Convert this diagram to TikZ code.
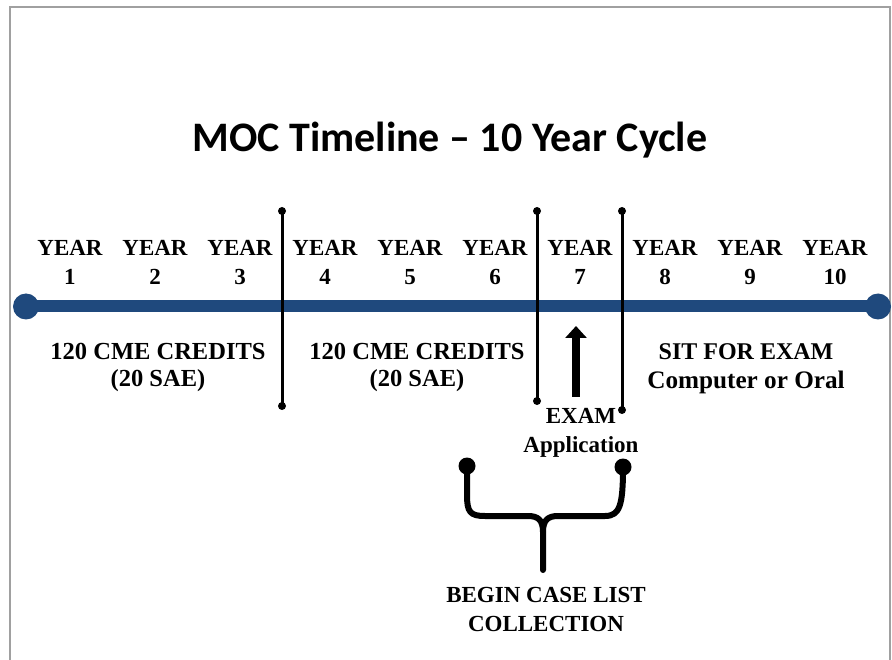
\documentclass[tikz,border=0pt]{standalone}
\usepackage{fontspec}
\setmainfont{Liberation Serif}
\newfontfamily\titlefont{Carlito}
\usetikzlibrary{arrows.meta}
\definecolor{tlblue}{RGB}{31,73,125}
\definecolor{framegray}{RGB}{160,160,160}
\begin{document}
\begin{tikzpicture}[x=1pt,y=-1pt,
  lbl/.style={font=\bfseries\fontsize{23}{29}\selectfont, align=center, inner sep=0pt, anchor=north},
  dot/.style={circle, fill=black, inner sep=0pt, minimum size=8pt},
  bigdot/.style={circle, fill=black, inner sep=0pt, minimum size=17pt},
  enddot/.style={circle, fill=tlblue, inner sep=0pt, minimum size=26pt},
  divider/.style={line width=3pt},
  bracepath/.style={line width=6pt, line join=round, line cap=round}]
\useasboundingbox (0,0) rectangle (892,660);
% frame
\draw[framegray, line width=1.6pt] (10,660) -- (10,7) -- (890,7) -- (890,660);
% title
\node[font=\titlefont\bfseries\fontsize{42}{50}\selectfont, anchor=base, inner sep=0pt] (title) at (450,152) {MOC Timeline – 10 Year Cycle};
% year labels
\foreach \i in {1,...,10}{
  \node[lbl] (y\i) at ({70+85*(\i-1)},240) {YEAR\\\i};
}
% timeline
\node[enddot] (L) at (26,306.5) {};
\node[enddot] (R) at (878,306.5) {};
\draw[tlblue, line width=12pt] (L.center) -- (R.center);
% dividers
\node[dot] (a1) at (282,211) {};
\node[dot] (a2) at (282,406) {};
\node[dot] (b1) at (537,211) {};
\node[dot] (b2) at (537,401) {};
\node[dot] (c1) at (622,211) {};
\node[dot] (c2) at (622,410) {};
\draw[divider] (a1.center) -- (a2.center);
\draw[divider] (b1.center) -- (b2.center);
\draw[divider] (c1.center) -- (c2.center);
% arrow
\coordinate (arrB) at (576,397);
\coordinate (arrT) at (576,326);
\draw[line width=8pt, -{Triangle[width=21pt,length=12pt]}] (arrB) -- (arrT);
% labels below
\node[lbl, font=\bfseries\fontsize{24.5}{27}\selectfont] (cme1) at (158,343) {120 CME CREDITS\\(20 SAE)};
\node[lbl, font=\bfseries\fontsize{24.5}{27}\selectfont] (cme2) at (417,343) {120 CME CREDITS\\(20 SAE)};
\node[lbl, font=\bfseries\fontsize{24}{29}\selectfont] (sit) at (746,343) {SIT FOR EXAM\\{\fontsize{25.2}{29}\selectfont Computer or Oral}};
\node[lbl] (exam) at (581,408) {EXAM\\Application};
% brace
\node[bigdot] (bl) at (467,466) {};
\node[bigdot] (br) at (623,467) {};
\coordinate (tip) at (543,570);
\draw[bracepath] (bl.center) -- (467,495) .. controls (467,512) and (470,516) .. (485,516) -- (528,516) .. controls (538,516) and (543,520) .. (543,532) -- (tip);
\draw[bracepath] (br.center) .. controls (623,505) and (620,516) .. (605,516) -- (558,516) .. controls (548,516) and (543,520) .. (543,532);
\node[lbl] (case) at (546,587) {BEGIN CASE LIST\\COLLECTION};
\end{tikzpicture}
\end{document}
